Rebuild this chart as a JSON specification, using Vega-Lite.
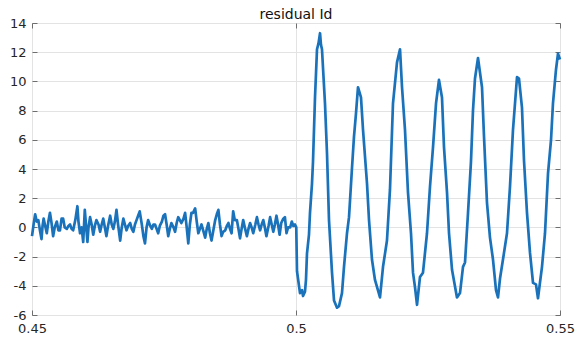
{
  "$schema": "https://vega.github.io/schema/vega-lite/v6.json",
  "width": 528,
  "height": 292,
  "autosize": {"type": "none"},
  "padding": {"left": 32, "top": 23, "right": 15, "bottom": 23},
  "background": "white",
  "config": {
    "view": {"stroke": "#6e6e6e", "strokeWidth": 1},
    "font": "DejaVu Sans",
    "axis": {"labelFont": "DejaVu Sans", "labelColor": "#262626", "labelFontSize": 12.5, "gridColor": "#e3e3e3", "gridWidth": 1, "domain": false, "tickColor": "#6e6e6e", "labelFlush": false}
  },
  "title": {"text": "residual Id", "font": "DejaVu Sans", "fontSize": 14, "fontWeight": "normal", "color": "#111", "anchor": "middle", "offset": -5},
  "data": {"values": [
    {"t":0.4500,"v":-0.6},{"t":0.4503,"v":0.2},{"t":0.4506,"v":0.9},{"t":0.4509,"v":0.4},{"t":0.4512,"v":0.5},{"t":0.4515,"v":-0.2},{"t":0.4518,"v":-0.8},{"t":0.4520,"v":0.1},{"t":0.4522,"v":0.6},{"t":0.4525,"v":0.1},
    {"t":0.4528,"v":-0.4},{"t":0.4531,"v":0.4},{"t":0.4534,"v":1.0},{"t":0.4537,"v":0.3},{"t":0.4540,"v":-0.6},{"t":0.4543,"v":0.0},{"t":0.4547,"v":0.4},{"t":0.4550,"v":-0.2},{"t":0.4553,"v":-0.2},{"t":0.4556,"v":0.6},
    {"t":0.4559,"v":0.6},{"t":0.4562,"v":0.0},{"t":0.4566,"v":-0.1},{"t":0.4569,"v":0.1},{"t":0.4572,"v":0.2},{"t":0.4575,"v":-0.1},{"t":0.4578,"v":-0.2},{"t":0.4582,"v":0.5},{"t":0.4586,"v":1.45},{"t":0.4588,"v":0.4},
    {"t":0.4591,"v":-0.4},{"t":0.4594,"v":0.0},{"t":0.4597,"v":-1.0},{"t":0.4600,"v":1.2},{"t":0.4602,"v":0.3},{"t":0.4605,"v":-1.0},{"t":0.4607,"v":0.0},{"t":0.4610,"v":0.7},{"t":0.4613,"v":0.2},{"t":0.4616,"v":-0.5},
    {"t":0.4619,"v":0.1},{"t":0.4622,"v":0.5},{"t":0.4626,"v":0.2},{"t":0.4629,"v":-0.3},{"t":0.4632,"v":0.2},{"t":0.4635,"v":0.6},{"t":0.4638,"v":0.0},{"t":0.4641,"v":-0.6},{"t":0.4644,"v":0.1},{"t":0.4648,"v":0.8},
    {"t":0.4651,"v":0.2},{"t":0.4654,"v":-0.1},{"t":0.4657,"v":0.4},{"t":0.4660,"v":1.2},{"t":0.4663,"v":0.2},{"t":0.4667,"v":-0.9},{"t":0.4670,"v":0.0},{"t":0.4673,"v":0.6},{"t":0.4676,"v":0.2},{"t":0.4679,"v":-0.2},
    {"t":0.4682,"v":0.1},{"t":0.4686,"v":0.3},{"t":0.4689,"v":-0.1},{"t":0.4692,"v":-0.3},{"t":0.4695,"v":0.2},{"t":0.4698,"v":0.5},{"t":0.4701,"v":0.8},{"t":0.4704,"v":1.1},{"t":0.4708,"v":0.2},{"t":0.4711,"v":-0.6},
    {"t":0.4714,"v":-1.1},{"t":0.4717,"v":0.0},{"t":0.4720,"v":0.5},{"t":0.4724,"v":0.1},{"t":0.4727,"v":-0.1},{"t":0.4730,"v":0.2},{"t":0.4733,"v":0.2},{"t":0.4736,"v":-0.1},{"t":0.4739,"v":-0.4},{"t":0.4742,"v":0.1},
    {"t":0.4746,"v":0.4},{"t":0.4749,"v":0.8},{"t":0.4752,"v":0.9},{"t":0.4755,"v":0.2},{"t":0.4758,"v":-0.6},{"t":0.4761,"v":-0.1},{"t":0.4764,"v":0.3},{"t":0.4768,"v":0.0},{"t":0.4771,"v":-0.3},{"t":0.4774,"v":0.3},
    {"t":0.4777,"v":0.7},{"t":0.4780,"v":0.5},{"t":0.4783,"v":0.3},{"t":0.4787,"v":0.6},{"t":0.4790,"v":1.0},{"t":0.4793,"v":0.0},{"t":0.4796,"v":-1.1},{"t":0.4799,"v":0.2},{"t":0.4802,"v":1.0},{"t":0.4805,"v":1.0},
    {"t":0.4809,"v":1.3},{"t":0.4812,"v":0.4},{"t":0.4815,"v":-0.4},{"t":0.4818,"v":-0.1},{"t":0.4821,"v":0.2},{"t":0.4825,"v":-0.3},{"t":0.4828,"v":-0.7},{"t":0.4831,"v":-0.1},{"t":0.4834,"v":0.3},{"t":0.4837,"v":-0.4},
    {"t":0.4840,"v":-0.9},{"t":0.4844,"v":-0.1},{"t":0.4847,"v":0.5},{"t":0.4850,"v":0.9},{"t":0.4853,"v":1.2},{"t":0.4856,"v":0.2},{"t":0.4859,"v":-0.6},{"t":0.4862,"v":-0.3},{"t":0.4866,"v":-0.2},{"t":0.4869,"v":0.1},
    {"t":0.4872,"v":0.3},{"t":0.4875,"v":-0.1},{"t":0.4878,"v":-0.4},{"t":0.4881,"v":1.1},{"t":0.4884,"v":0.5},{"t":0.4888,"v":0.5},{"t":0.4891,"v":-0.1},{"t":0.4894,"v":-0.75},{"t":0.4897,"v":-0.1},{"t":0.4900,"v":0.5},
    {"t":0.4903,"v":0.0},{"t":0.4907,"v":-0.6},{"t":0.4910,"v":-0.1},{"t":0.4913,"v":0.3},{"t":0.4916,"v":0.0},{"t":0.4919,"v":-0.4},{"t":0.4923,"v":0.2},{"t":0.4926,"v":0.7},{"t":0.4929,"v":0.2},{"t":0.4932,"v":-0.2},
    {"t":0.4935,"v":0.2},{"t":0.4938,"v":0.5},{"t":0.4941,"v":0.0},{"t":0.4944,"v":-0.6},{"t":0.4948,"v":0.1},{"t":0.4951,"v":0.7},{"t":0.4954,"v":0.2},{"t":0.4957,"v":-0.3},{"t":0.4960,"v":0.2},{"t":0.4963,"v":0.8},
    {"t":0.4966,"v":0.2},{"t":0.4969,"v":-0.5},{"t":0.4972,"v":0.3},{"t":0.4976,"v":0.6},{"t":0.4979,"v":0.7},{"t":0.4982,"v":-0.4},{"t":0.4985,"v":0.0},{"t":0.4989,"v":0.0},{"t":0.4992,"v":0.4},{"t":0.4995,"v":0.1},
    {"t":0.4998,"v":0.2},{"t":0.50005,"v":0.0},
    {"t":0.50019,"v":-3.0},{"t":0.50076,"v":-4.5},{"t":0.50114,"v":-4.3},{"t":0.50133,"v":-4.7},{"t":0.50170,"v":-4.4},{"t":0.50189,"v":-3.6},{"t":0.50208,"v":-1.8},{"t":0.50246,"v":-0.5},{"t":0.50265,"v":1.0},{"t":0.50303,"v":3.0},
    {"t":0.50322,"v":4.5},{"t":0.50360,"v":8.9},{"t":0.50398,"v":12.2},{"t":0.50426,"v":12.6},{"t":0.50455,"v":13.3},{"t":0.50473,"v":12.5},{"t":0.50492,"v":12.2},{"t":0.50549,"v":8.5},{"t":0.50587,"v":5.1},{"t":0.50625,"v":0.5},
    {"t":0.50682,"v":-3.1},{"t":0.50720,"v":-5.0},{"t":0.50777,"v":-5.5},{"t":0.50814,"v":-5.4},{"t":0.50871,"v":-4.5},{"t":0.50909,"v":-2.7},{"t":0.50966,"v":-0.4},{"t":0.51004,"v":0.7},{"t":0.51061,"v":4.1},{"t":0.51098,"v":6.2},
    {"t":0.51136,"v":7.8},{"t":0.51174,"v":9.6},{"t":0.51231,"v":8.9},{"t":0.51269,"v":6.7},{"t":0.51345,"v":3.0},{"t":0.51383,"v":0.5},{"t":0.51439,"v":-2.2},{"t":0.51496,"v":-3.6},{"t":0.51591,"v":-4.8},{"t":0.51648,"v":-2.7},
    {"t":0.51723,"v":-0.9},{"t":0.51780,"v":2.6},{"t":0.51837,"v":8.5},{"t":0.51913,"v":11.3},{"t":0.51970,"v":12.2},{"t":0.52008,"v":9.6},{"t":0.52064,"v":6.7},{"t":0.52121,"v":2.4},{"t":0.52178,"v":-0.4},{"t":0.52216,"v":-3.1},
    {"t":0.52254,"v":-4.1},{"t":0.52292,"v":-5.3},{"t":0.52348,"v":-3.4},{"t":0.52405,"v":-3.1},{"t":0.52481,"v":-0.4},{"t":0.52538,"v":2.8},{"t":0.52595,"v":5.5},{"t":0.52652,"v":8.5},{"t":0.52708,"v":10.1},{"t":0.52765,"v":8.9},
    {"t":0.52803,"v":5.5},{"t":0.52860,"v":2.4},{"t":0.52898,"v":-0.4},{"t":0.52955,"v":-2.9},{"t":0.53049,"v":-4.8},{"t":0.53106,"v":-4.5},{"t":0.53163,"v":-2.7},{"t":0.53201,"v":-2.4},{"t":0.53258,"v":1.0},{"t":0.53314,"v":4.5},
    {"t":0.53352,"v":8.0},{"t":0.53390,"v":10.2},{"t":0.53447,"v":11.6},{"t":0.53523,"v":9.6},{"t":0.53561,"v":6.2},{"t":0.53617,"v":1.7},{"t":0.53674,"v":-0.7},{"t":0.53731,"v":-2.2},{"t":0.53788,"v":-4.3},{"t":0.53826,"v":-4.8},
    {"t":0.53864,"v":-3.5},{"t":0.53920,"v":-2.2},{"t":0.53996,"v":-0.4},{"t":0.54053,"v":2.8},{"t":0.54110,"v":6.7},{"t":0.54186,"v":10.3},{"t":0.54223,"v":10.2},{"t":0.54280,"v":8.2},{"t":0.54318,"v":4.6},{"t":0.54375,"v":1.0},
    {"t":0.54432,"v":-1.75},{"t":0.54489,"v":-3.8},{"t":0.54545,"v":-3.9},{"t":0.54583,"v":-4.85},{"t":0.54659,"v":-2.7},{"t":0.54716,"v":-0.4},{"t":0.54773,"v":3.7},{"t":0.54830,"v":6.0},{"t":0.54867,"v":8.5},{"t":0.54924,"v":10.8},
    {"t":0.54962,"v":11.9},{"t":0.55000,"v":11.5}
  ]},
  "layer": [
    {
      "mark": {"type": "line", "color": "#1a72bb", "strokeWidth": 2.7, "strokeJoin": "round"},
      "encoding": {
        "x": {"field": "t", "type": "quantitative", "scale": {"domain": [0.45, 0.55], "nice": false, "zero": false},
              "axis": {"title": null, "values": [0.45, 0.5, 0.55], "format": ".2~f", "tickSize": -5, "labelPadding": 12.5, "grid": true, "labelFontSize": 13, "labelFlush": false}},
        "y": {"field": "v", "type": "quantitative", "scale": {"domain": [-6, 14], "nice": false, "zero": false},
              "axis": {"title": null, "values": [-6, -4, -2, 0, 2, 4, 6, 8, 10, 12, 14], "labelExpr": "datum.value + ''", "tickSize": -5, "labelPadding": 11, "grid": true, "labelFontSize": 13, "labelFlush": false}}
      }
    },
    {
      "mark": {"type": "line", "opacity": 0},
      "encoding": {
        "x": {"field": "t", "type": "quantitative", "scale": {"domain": [0.45, 0.55], "nice": false, "zero": false},
              "axis": {"orient": "top", "title": null, "values": [0.45, 0.5, 0.55], "labels": false, "tickSize": -5, "grid": false}},
        "y": {"field": "v", "type": "quantitative", "scale": {"domain": [-6, 14], "nice": false, "zero": false},
              "axis": {"orient": "right", "title": null, "values": [-6, -4, -2, 0, 2, 4, 6, 8, 10, 12, 14], "labels": false, "tickSize": -5, "grid": false}}
      }
    }
  ],
  "resolve": {"axis": {"x": "independent", "y": "independent"}}
}
